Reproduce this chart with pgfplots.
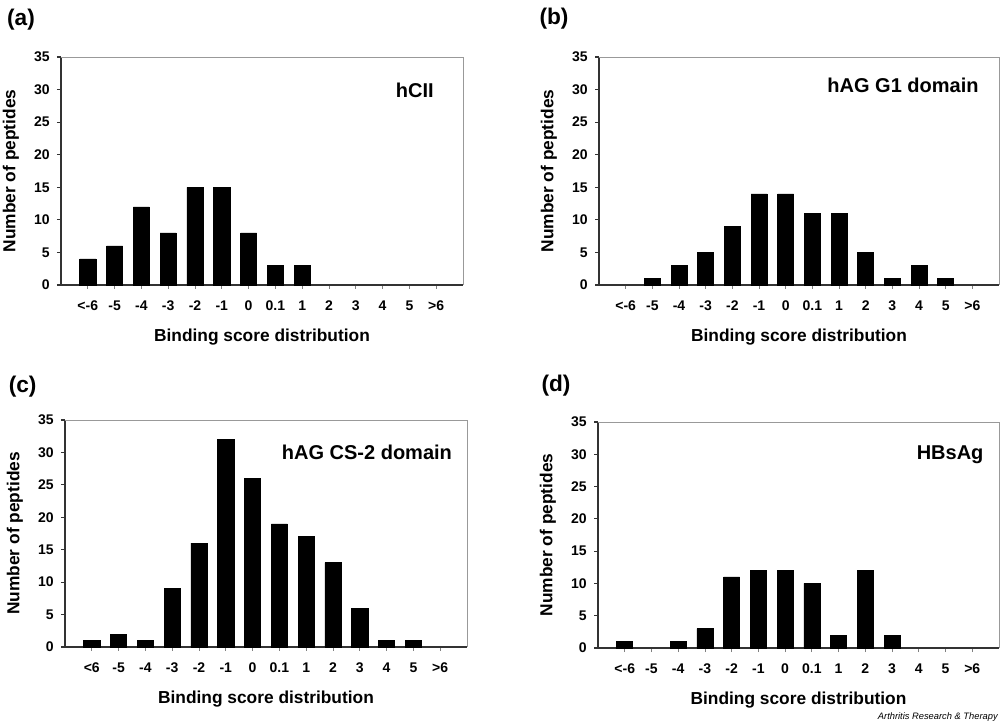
\documentclass[border=0pt]{standalone}
\usepackage{fontspec}
\setmainfont{Liberation Sans}
\usepackage{pgfplots}
\pgfplotsset{compat=1.18}
\pgfplotsset{
 panel/.style={
  scale only axis, width=301.5pt, height=171pt,
  xmin=-1, xmax=14, ymin=0, ymax=35,
  ytick={0,5,...,35},
  xtick={0,...,13},
  xticklabels={<-6,-5,-4,-3,-2,-1,0,0.1,1,2,3,4,5,>6},
  axis lines=left, axis line style={black!80, line width=0.8pt, -},
  tick align=outside, major tick length=3pt,
  xtick style={gray, line width=0.6pt},
  ytick style={black!80, line width=0.8pt},
  /pgf/number format/assume math mode=true,
  ticklabel style={font=\bfseries\fontsize{10.5}{12}\selectfont},
  xticklabel style={yshift=-5pt},
  yticklabel style={xshift=-2pt},
  xlabel={Binding score distribution}, ylabel={Number of peptides},
  every axis x label/.style={at={(axis description cs:0.5,0)}, anchor=center, yshift=-39pt, font=\bfseries\fontsize{13}{15}\selectfont},
  every axis y label/.style={at={(axis description cs:0,0.5)}, anchor=center, rotate=90, yshift=37.5pt, font=\bfseries\fontsize{13}{15}\selectfont},
  ybar, bar width=0.6,
  clip=false,
  after end axis/.code={\draw[gray!80, line width=0.6pt] (rel axis cs:0,1) -- (rel axis cs:1,1) -- (rel axis cs:1,0);},
 },
 bars/.style={fill=black, draw=black}
}
\begin{document}
\begin{tikzpicture}
% (a) hCII
\begin{axis}[panel, at={(45.75pt,-42.75pt)}, anchor=north west]
\addplot[bars] coordinates {(0,4) (1,6) (2,12) (3,8) (4,15) (5,15) (6,8) (7,3) (8,3)};
\node[font=\bfseries\fontsize{15}{18}\selectfont] at (rel axis cs:0.88,0.855) {hCII};
\end{axis}
% (b) hAG G1 domain
\begin{axis}[panel, width=300pt, at={(449.25pt,-42.75pt)}, anchor=north west]
\addplot[bars] coordinates {(1,1) (2,3) (3,5) (4,9) (5,14) (6,14) (7,11) (8,11) (9,5) (10,1) (11,3) (12,1)};
\node[font=\bfseries\fontsize{15}{18}\selectfont] at (rel axis cs:0.76,0.877) {hAG G1 domain};
\end{axis}
% (c) hAG CS-2 domain
\begin{axis}[panel, height=170.25pt, at={(48.75pt,-315pt)}, anchor=north west,
  xticklabels={<6,-5,-4,-3,-2,-1,0,0.1,1,2,3,4,5,>6}]
\addplot[bars] coordinates {(0,1) (1,2) (2,1) (3,9) (4,16) (5,32) (6,26) (7,19) (8,17) (9,13) (10,6) (11,1) (12,1)};
\node[font=\bfseries\fontsize{15}{18}\selectfont] at (rel axis cs:0.751,0.859) {hAG CS-2 domain};
\end{axis}
% (d) HBsAg
\begin{axis}[panel, width=300.75pt, height=169.5pt, at={(448.5pt,-316.5pt)}, anchor=north west]
\addplot[bars] coordinates {(0,1) (2,1) (3,3) (4,11) (5,12) (6,12) (7,10) (8,2) (9,12) (10,2)};
\node[font=\bfseries\fontsize{15}{18}\selectfont] at (rel axis cs:0.878,0.854) {HBsAg};
\end{axis}
\node[font=\bfseries\fontsize{17}{20}\selectfont] at (15.75pt,-15pt) {(a)};
\node[font=\bfseries\fontsize{17}{20}\selectfont] at (415.5pt,-14pt) {(b)};
\node[font=\bfseries\fontsize{17}{20}\selectfont] at (17pt,-290pt) {(c)};
\node[font=\bfseries\fontsize{17}{20}\selectfont] at (417pt,-289.5pt) {(d)};
\node[font=\itshape\fontsize{7}{8}\selectfont, anchor=east, inner sep=0pt] at (748.5pt,-537.75pt) {Arthritis Research \& Therapy};
\pgfresetboundingbox
\useasboundingbox (0,0) rectangle (750pt,-542.25pt);
\end{tikzpicture}
\end{document}
